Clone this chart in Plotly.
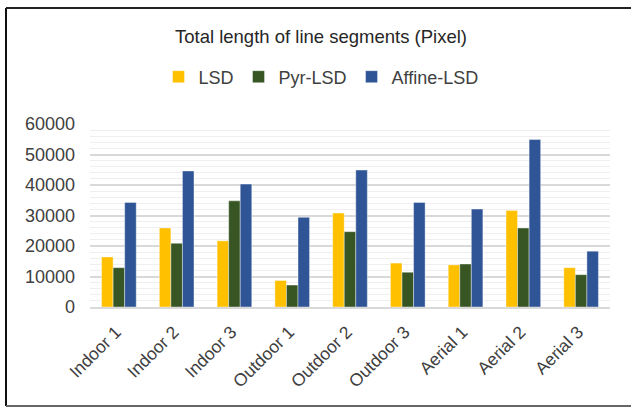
import plotly.graph_objects as go

categories = ["Indoor 1", "Indoor 2", "Indoor 3", "Outdoor 1", "Outdoor 2", "Outdoor 3",
              "Aerial 1", "Aerial 2", "Aerial 3"]
lsd = [16400, 25900, 21700, 8700, 30800, 14400, 13800, 31600, 12900]
pyr_lsd = [12900, 20900, 34800, 7200, 24700, 11400, 14100, 25900, 10600]
affine_lsd = [34300, 44600, 40300, 29400, 44900, 34300, 32100, 54900, 18300]
y_ticks = [0, 10000, 20000, 30000, 40000, 50000, 60000]

W, H = 631, 407
L, R, T, B = 90, 21, 124, 100
pw, ph = W - L - R, H - T - B

def px(x):
    return (x - L) / pw

def py(y):
    return (H - B - y) / ph

fig = go.Figure()
for name, vals, col in [("LSD", lsd, "#FFC000"), ("Pyr-LSD", pyr_lsd, "#375623"),
                        ("Affine-LSD", affine_lsd, "#2F5597")]:
    fig.add_trace(go.Bar(x=categories, y=vals, name=name,
                         marker=dict(color=col, line=dict(color="rgba(255,255,255,0.5)", width=0.8))))

font_col = "#404040"
fig.update_layout(
    width=W, height=H,
    margin=dict(l=L, r=R, t=T, b=B),
    paper_bgcolor="white", plot_bgcolor="white",
    barmode="group", bargap=0.4, bargroupgap=0,
    font=dict(family="Liberation Sans, Arial, sans-serif", color=font_col),
    title=dict(text="Total length of line segments (Pixel)", x=321 / W, xref="container",
               xanchor="center", y=1 - 37 / H, yref="container", yanchor="middle",
               font=dict(size=18.5, color="#262626")),
    legend=dict(orientation="h", x=px(321), xanchor="center", y=py(77), yanchor="middle",
                font=dict(size=18, color=font_col), itemwidth=30, traceorder="normal",
                bgcolor="rgba(0,0,0,0)"),
    showlegend=True,
)
fig.update_yaxes(range=[0, 60000], tickvals=y_ticks, ticktext=[str(v) for v in y_ticks],
                 showgrid=True, gridcolor="#d9d9d9", gridwidth=1.5,
                 minor=dict(dtick=2000, showgrid=True, gridcolor="#efefef", gridwidth=1),
                 zeroline=False, showline=False, ticks="", ticklabelstandoff=14,
                 automargin=False, tickfont=dict(size=18, color=font_col))
fig.update_xaxes(showgrid=False, showline=True, linecolor="#d9d9d9", linewidth=2,
                 ticks="", tickangle=-45, automargin=False, ticklabelstandoff=6,
                 ticklabelshift=-3, tickfont=dict(size=17.5, color=font_col))

fig.add_shape(type="line", xref="paper", yref="paper", x0=px(6), x1=px(6), y0=py(8), y1=py(406),
              line=dict(color="#111111", width=2))
fig.add_shape(type="line", xref="paper", yref="paper", x0=px(6), x1=px(640), y0=py(8), y1=py(8),
              line=dict(color="#222222", width=2))
fig.add_shape(type="line", xref="paper", yref="paper", x0=px(6), x1=px(640), y0=py(406), y1=py(406),
              line=dict(color="#666666", width=2))

fig.write_html("out.html", post_script="document.body.style.margin='0';",
               config={"displayModeBar": False})
